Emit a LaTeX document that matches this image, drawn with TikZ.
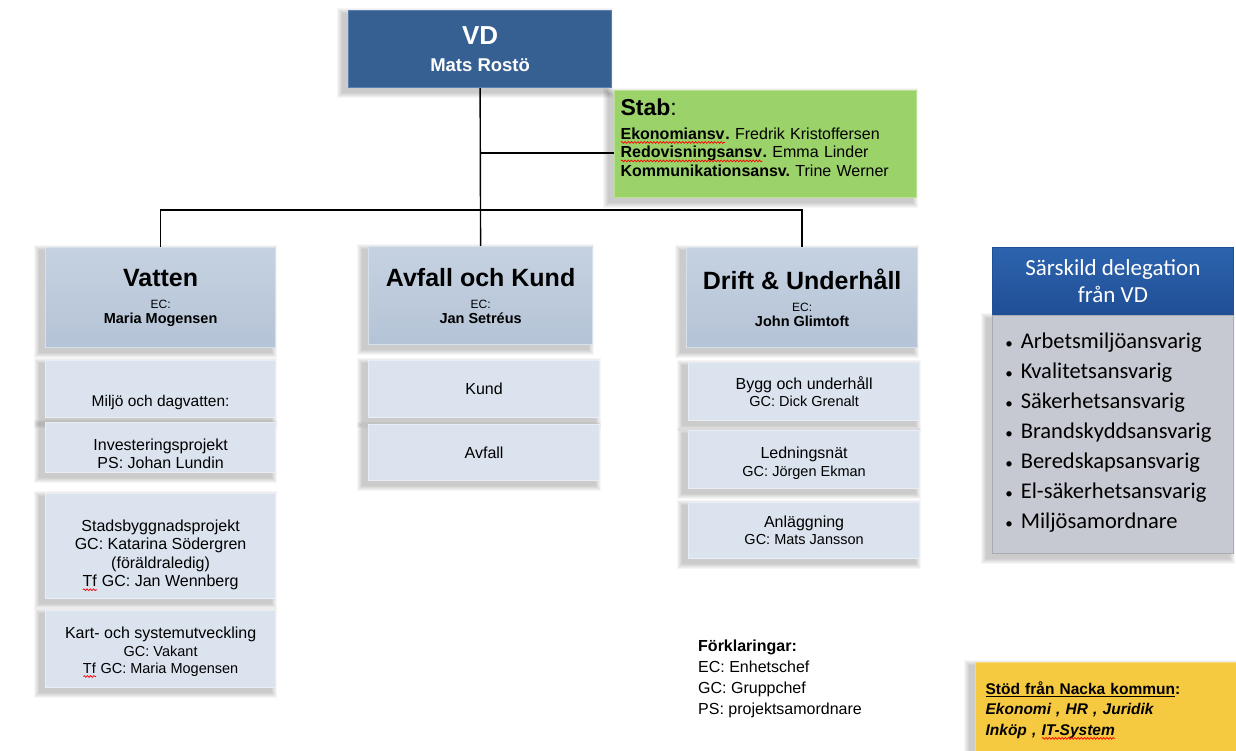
\documentclass[tikz,border=0pt]{standalone}
\usepackage{fontspec}
\setmainfont{Liberation Sans}
\newfontfamily\calibri{Carlito}
\usetikzlibrary{backgrounds,decorations.pathmorphing}
\newlength\spellw
\newcommand\spellerr[1]{\settowidth\spellw{#1}\leavevmode\rlap{#1}\tikz[baseline=0pt]{\path (0pt,0pt) rectangle (\spellw,1pt); \draw[red, line width=0.7pt, decorate, decoration={snake, amplitude=0.9pt, segment length=3.2pt}] (0pt,-3pt) -- (\spellw,-3pt);}}
\newcommand\fs[2]{\fontsize{#1}{#2}\selectfont}
\newcommand\dlb{{\fontsize{15}{15}\selectfont\textbullet}\hspace{8pt}}
\definecolor{vdblue}{HTML}{366092}
\definecolor{vdedge}{HTML}{5B80B0}
\definecolor{stabgreen}{HTML}{9BD26A}
\definecolor{stabedge}{HTML}{B8E290}
\definecolor{hdrtop}{HTML}{C6D2E1}
\definecolor{hdrbot}{HTML}{B4C3D6}
\definecolor{hdredge}{HTML}{D8E0EB}
\definecolor{subfill}{HTML}{DBE4EE}
\definecolor{subedge}{HTML}{E9EEF5}
\definecolor{delhead}{HTML}{1F4F95}
\definecolor{delheadtop}{HTML}{2D63AE}
\definecolor{delbody}{HTML}{C6C9D1}
\definecolor{yel}{HTML}{F5C940}
\definecolor{yeledge}{HTML}{F9DA78}
\tikzset{
  base/.style={rectangle, anchor=north west, inner sep=2pt, align=center},
  vdbox/.style={base, fill=vdblue, draw=vdedge, line width=1.2pt, text=white},
  stabbox/.style={base, fill=stabgreen, draw=stabedge, line width=1.2pt, align=left, inner xsep=8pt},
  hdr/.style={base, top color=hdrtop, bottom color=hdrbot, draw=hdredge, line width=1.2pt,
              minimum height=100pt, font=\fs{14.5}{18}\bfseries},
  sub/.style={base, fill=subfill, draw=subedge, line width=1.2pt},
  delh/.style={base, top color=delheadtop, bottom color=delhead, draw=delhead, line width=0.8pt, text=white},
  delb/.style={base, fill=delbody, draw=delbody!85!black, line width=0.6pt, align=left, inner xsep=12pt},
  yelbox/.style={base, fill=yel, draw=yeledge, line width=1.2pt, align=left, inner xsep=10pt},
  conn/.style={draw=black, line width=1.4pt},
}
\newcommand\softshadow[1]{%
  \foreach \k in {1,...,6}{%
    \fill[black, opacity=0.035] ([xshift=-5pt-\k pt, yshift=-4pt-\k pt]#1.south west) rectangle ([xshift=-5pt+\k pt, yshift=-4pt+\k pt]#1.north east);}}
\begin{document}
\begin{tikzpicture}[x=1pt, y=-1pt]
\useasboundingbox (0,0) rectangle (1236,751);

% top
\node[vdbox, minimum width=263pt, minimum height=77pt, font=\fs{18.5}{26}\bfseries] (vd) at (348,10)
  {{\fs{26}{30}VD}\\[1pt]Mats Rostö};
\node[stabbox, minimum width=302pt, minimum height=107pt, text width=290pt, inner xsep=6pt,
      font=\fs{16}{18.5}\frenchspacing] (stab) at (614,90)
  {{\fs{23}{24}\bfseries Stab\mdseries:}\\[5pt]
   \textbf{\spellerr{Ekonomiansv}.} Fredrik Kristoffersen\\
   \textbf{\spellerr{Redovisningsansv}.} Emma Linder\\
   \textbf{Kommunikationsansv.} Trine Werner\\[-6pt]\mbox{}};

% headers
\node[hdr, minimum width=230pt] (vat) at (45,247)
  {{\fs{25}{28}Vatten}\\[4pt]{\mdseries\fs{12}{14}EC:}\\[-3pt]Maria Mogensen};
\node[hdr, minimum width=224pt, minimum height=98pt] (avk) at (368,246)
  {{\fs{25}{28}Avfall och Kund}\\[4pt]{\mdseries\fs{12}{14}EC:}\\[-3pt]Jan Setréus};
\node[hdr, minimum width=231pt] (drf) at (686,247)
  {{\fs{25}{28}Drift \& Underhåll}\\[4pt]{\mdseries\fs{12}{14}EC:}\\[-3pt]John Glimtoft};

% Vatten sub units
\node[sub, minimum width=230pt, minimum height=57pt, font=\fs{15.5}{19}] (v1) at (45,360)
  {\raisebox{-17pt}[0pt][0pt]{Miljö och dagvatten:}};
\node[sub, minimum width=230pt, minimum height=50pt, font=\fs{16}{18}] (v2) at (45,422)
  {\rule{0pt}{24pt}Investeringsprojekt\\PS: Johan Lundin};
\node[sub, minimum width=230pt, minimum height=105pt, font=\fs{16}{18.5}] (v3) at (45,493)
  {\rule{0pt}{30pt}Stadsbyggnadsprojekt\\GC: Katarina Södergren\\(föräldraledig)\\\spellerr{Tf} GC: Jan Wennberg};
\node[sub, minimum width=230pt, minimum height=77pt, font=\fs{14.5}{17}] (v4) at (45,610)
  {{\fs{16}{17}\rule{0pt}{18pt}Kart- och systemutveckling}\\[1pt]GC: Vakant\\\spellerr{Tf} GC: Maria Mogensen};

% Avfall sub units
\node[sub, minimum width=231pt, minimum height=57pt, font=\fs{16}{19}] (a1) at (368,360) {Kund};
\node[sub, minimum width=231pt, minimum height=56pt, font=\fs{16}{19}] (a2) at (368,424) {Avfall};

% Drift sub units
\node[sub, minimum width=231pt, minimum height=58pt, font=\fs{14.5}{17}] (d1) at (688,362)
  {{\fs{16}{17}Bygg och underhåll}\\GC: Dick Grenalt};
\node[sub, minimum width=231pt, minimum height=58pt, font=\fs{14.5}{18}] (d2) at (688,430)
  {{\fs{16}{18}\rule{0pt}{19pt}Ledningsnät}\\GC: Jörgen Ekman};
\node[sub, minimum width=231pt, minimum height=56pt, font=\fs{14.5}{17}] (d3) at (688,502)
  {{\fs{16}{17}Anläggning}\\GC: Mats Jansson};

% delegation box
\node[delh, minimum width=241pt, minimum height=68pt, font=\calibri\fs{23}{27}] (delh) at (992,247)
  {Särskild delegation\\från VD};
\node[delb, minimum width=241pt, minimum height=238pt, text width=215pt,
      font=\calibri\fs{22.5}{30}] (delb) at (992,315)
  {\dlb Arbetsmiljöansvarig\\
   \dlb Kvalitetsansvarig\\
   \dlb Säkerhetsansvarig\\
   \dlb Brandskyddsansvarig\\
   \dlb Beredskapsansvarig\\
   \dlb El-säkerhetsansvarig\\
   \dlb Miljösamordnare\\[-22pt]\mbox{}};

% legend
\node[anchor=north west, align=left, inner sep=0pt, font=\fs{16}{21}] (leg) at (698,640)
  {\textbf{Förklaringar:}\\EC: Enhetschef\\GC: Gruppchef\\PS: projektsamordnare};

% support box
\node[yelbox, minimum width=266pt, minimum height=96pt, text width=246pt,
      font=\fs{15.5}{20.5}] (yelb) at (975,662)
  {\textbf{\underline{Stöd från Nacka kommun}:}\\
   \textbf{\textit{Ekonomi , HR , Juridik}}\\
   \textbf{\textit{Inköp , \spellerr{IT-System}}}};

% connectors
\coordinate (sa) at ([yshift=-9pt]stab.west);
\draw[conn] (vd.south) -- (avk.north);
\draw[conn] (vd.south |- sa) -- (sa);
\draw[conn] (vat.north) -- ++(0,-37) -| (drf.north);

\begin{pgfonlayer}{background}
  \fill[white] (0,0) rectangle (1236,751);
  \softshadow{vd}
  \softshadow{stab}
  \softshadow{vat}
  \softshadow{avk}
  \softshadow{drf}
  \softshadow{v1}\softshadow{v2}\softshadow{v3}\softshadow{v4}
  \softshadow{a1}\softshadow{a2}
  \softshadow{d1}\softshadow{d2}\softshadow{d3}
  \softshadow{delb}
  \softshadow{yelb}
\end{pgfonlayer}
\end{tikzpicture}
\end{document}
